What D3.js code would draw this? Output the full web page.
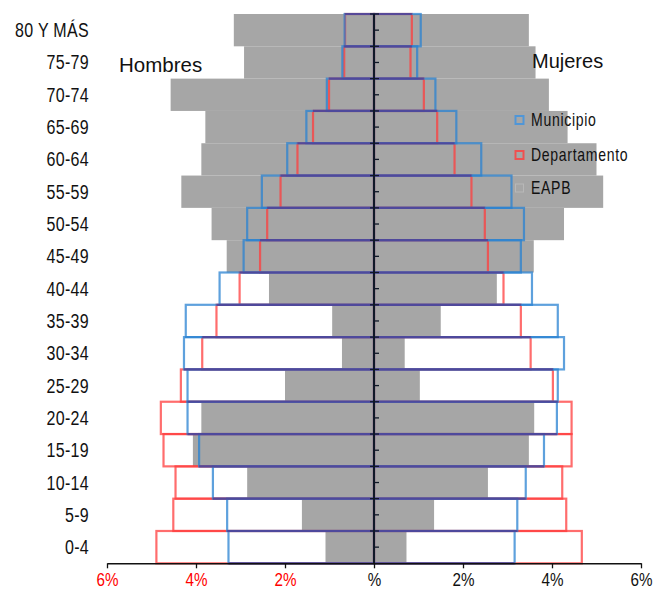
<!DOCTYPE html>
<html><head><meta charset="utf-8">
<script src="https://cdn.jsdelivr.net/npm/d3@7"></script>
<style>
html,body{margin:0;padding:0;background:#fff;}
svg{display:block;}
text{font-family:"Liberation Sans",Arial,sans-serif;}
</style></head>
<body><svg id="c" width="655" height="594"></svg>
<script>
const categories = ["80 Y MÁS","75-79","70-74","65-69","60-64","55-59","50-54","45-49","40-44","35-39","30-34","25-29","20-24","15-19","10-14","5-9","0-4"];
const hombresEAPB = [3.15, 2.92, 4.57, 3.79, 3.88, 4.33, 3.65, 3.31, 2.36, 0.94, 0.72, 2.00, 3.88, 4.07, 2.85, 1.62, 1.09];
const mujeresEAPB = [3.48, 3.63, 3.93, 4.35, 5.00, 5.15, 4.27, 3.59, 2.76, 1.50, 0.69, 1.03, 3.60, 3.48, 2.56, 1.35, 0.73];
const hombresMunicipio = [0.66, 0.71, 1.06, 1.52, 1.95, 2.52, 2.85, 2.93, 3.47, 4.23, 4.27, 4.19, 4.19, 3.93, 3.62, 3.30, 3.27];
const hombresDepartamento = [0.65, 0.67, 1.01, 1.37, 1.72, 2.10, 2.40, 2.56, 3.02, 3.54, 3.86, 4.34, 4.79, 4.73, 4.46, 4.51, 4.89];
const mujeresMunicipio = [1.05, 0.97, 1.38, 1.85, 2.41, 3.09, 3.37, 3.30, 3.55, 4.13, 4.27, 4.13, 4.11, 3.82, 3.41, 3.22, 3.16];
const mujeresDepartamento = [0.85, 0.82, 1.12, 1.42, 1.81, 2.19, 2.49, 2.56, 2.91, 3.30, 3.52, 4.02, 4.44, 4.44, 4.23, 4.32, 4.67];
const xTickValues = [-6, -4, -2, 0, 2, 4, 6];
const xTickLabels = ["6%", "4%", "2%", "%", "2%", "4%", "6%"];
const legendItems = ["Municipio", "Departamento", "EAPB"];

const svg = d3.select("#c");
const x = d3.scaleLinear().domain([-6, 6]).range([107, 641]);
const y = d3.scaleBand().domain(categories).range([14, 563.3]).padding(0);

const GRAY = "#a6a6a6";
const RED = "rgba(255,60,60,0.75)";
const BLUE = "rgba(40,130,210,0.75)";
const PURPLE = "rgba(85,60,145,0.8)";
const SW = 2.2;
const NARROW = 0.8;

// EAPB filled bars
const gBars = svg.append("g");
gBars.selectAll("rect.hl").data(categories).join("rect")
  .attr("x", (d,i) => x(-hombresEAPB[i])).attr("y", d => y(d))
  .attr("width", (d,i) => x(0) - x(-hombresEAPB[i])).attr("height", y.bandwidth())
  .attr("fill", GRAY);
gBars.selectAll("rect.mr").data(categories).join("rect")
  .attr("x", x(0)).attr("y", d => y(d))
  .attr("width", (d,i) => x(mujeresEAPB[i]) - x(0)).attr("height", y.bandwidth())
  .attr("fill", GRAY);

function outline(arrL, arrR, color) {
  const g = svg.append("g").attr("fill", "none").attr("stroke", color).attr("stroke-width", SW);
  g.selectAll("rect.l").data(categories).join("rect")
    .attr("x", (d,i) => x(-arrL[i])).attr("y", d => y(d))
    .attr("width", (d,i) => x(0) - x(-arrL[i])).attr("height", y.bandwidth());
  g.selectAll("rect.r").data(categories).join("rect")
    .attr("x", x(0)).attr("y", d => y(d))
    .attr("width", (d,i) => x(arrR[i]) - x(0)).attr("height", y.bandwidth());
}
outline(hombresDepartamento, mujeresDepartamento, RED);
outline(hombresMunicipio, mujeresMunicipio, BLUE);

// overlapping horizontal edges (red and blue coincide) -> purple
const edges = d3.range(categories.length + 1).map(k => {
  const above = k - 1, below = k;
  const ext = (arr) => Math.max(above >= 0 ? arr[above] : 0, below < categories.length ? arr[below] : 0);
  const yy = below < categories.length ? y(categories[below]) : y(categories[above]) + y.bandwidth();
  return {
    y: yy,
    l: Math.min(ext(hombresDepartamento), ext(hombresMunicipio)),
    r: Math.min(ext(mujeresDepartamento), ext(mujeresMunicipio))
  };
});
svg.append("g").attr("stroke", PURPLE).attr("stroke-width", SW)
  .selectAll("line").data(edges).join("line")
  .attr("x1", d => x(-d.l)).attr("x2", d => x(d.r))
  .attr("y1", d => d.y).attr("y2", d => d.y);

// center axis
const cx = x(0);
const ca = svg.append("g").attr("stroke", "#101828");
ca.append("line").attr("x1", cx).attr("x2", cx).attr("y1", y.range()[0]).attr("y2", y.range()[1]).attr("stroke-width", 2);
ca.selectAll("line.maj").data(d3.range(categories.length)).join("line")
  .attr("x1", cx - 4).attr("x2", cx + 5)
  .attr("y1", i => y(categories[i])).attr("y2", i => y(categories[i])).attr("stroke-width", 1.3);
ca.selectAll("line.min").data(categories).join("line")
  .attr("x1", cx).attr("x2", cx + 5)
  .attr("y1", d => y(d) + y.bandwidth()/2).attr("y2", d => y(d) + y.bandwidth()/2).attr("stroke-width", 1.3);

// bottom axis
const axisY = y.range()[1];
const xa = svg.append("g").attr("transform", `translate(0,${axisY})`)
  .call(d3.axisBottom(x).tickValues(xTickValues).tickSize(5).tickSizeOuter(0).tickFormat((d,i) => xTickLabels[i]));
xa.select(".domain").attr("stroke", "#111").attr("stroke-width", 1.5);
xa.selectAll(".tick line").attr("stroke", "#111").attr("stroke-width", 1.3);
xa.selectAll(".tick text")
  .attr("font-family", "Liberation Sans, Arial, sans-serif")
  .attr("font-size", 19).attr("y", 9).attr("dy", "0.71em")
  .attr("transform", `scale(${NARROW},1)`)
  .attr("fill", d => d < 0 ? "#ff0000" : "#111");

// y labels
svg.append("g").selectAll("text").data(categories).join("text")
  .attr("transform", d => `translate(89,${y(d) + y.bandwidth()/2}) scale(${NARROW},1)`)
  .attr("dy", "0.35em")
  .attr("text-anchor", "end").attr("font-size", 20).attr("letter-spacing", 0.4)
  .attr("fill", "#111").text(d => d);

// titles
svg.append("text").attr("x", 119).attr("y", 72)
  .attr("font-size", 20.5).attr("fill", "#111").text("Hombres");
svg.append("text").attr("x", 532).attr("y", 68)
  .attr("font-size", 20).attr("fill", "#111").text("Mujeres");

// legend
const legColors = [{s: "rgb(80,150,215)", f: "none"}, {s: "rgb(240,80,80)", f: "none"}, {s: "#b8b8b8", f: GRAY}];
const legY = [120, 155, 188];
const lg = svg.append("g");
legendItems.forEach((name, i) => {
  lg.append("rect").attr("x", 515.5).attr("y", legY[i] - 4).attr("width", 8).attr("height", 8)
    .attr("fill", legColors[i].f).attr("stroke", legColors[i].s).attr("stroke-width", i < 2 ? 2 : 1);
  lg.append("text").attr("transform", `translate(531,${legY[i]}) scale(0.78,1)`).attr("dy", "0.35em")
    .attr("font-size", 18).attr("letter-spacing", 0.9).attr("fill", "#111").text(name);
});
</script></body></html>
